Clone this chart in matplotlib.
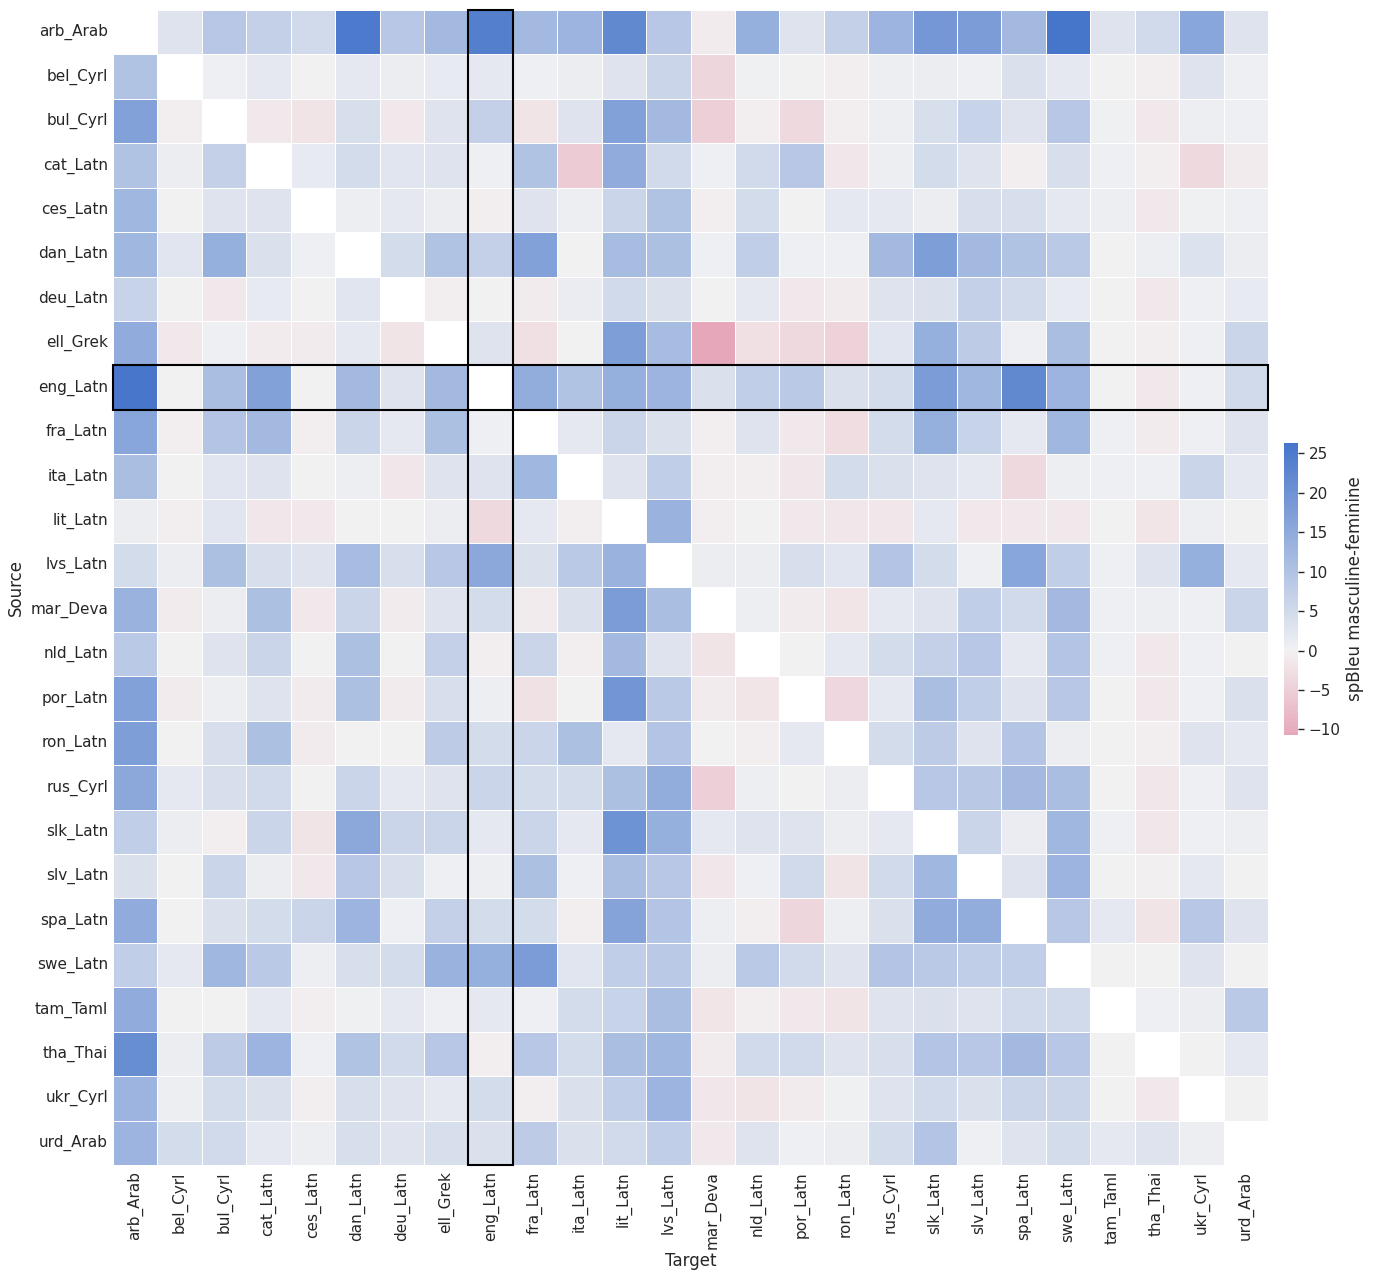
import numpy as np
import matplotlib
matplotlib.use("Agg")
import matplotlib.pyplot as plt
import seaborn as sns
from matplotlib.patches import Rectangle

langs = ["arb_Arab", "bel_Cyrl", "bul_Cyrl", "cat_Latn", "ces_Latn", "dan_Latn",
         "deu_Latn", "ell_Grek", "eng_Latn", "fra_Latn", "ita_Latn", "lit_Latn",
         "lvs_Latn", "mar_Deva", "nld_Latn", "por_Latn", "ron_Latn", "rus_Cyrl",
         "slk_Latn", "slv_Latn", "spa_Latn", "swe_Latn", "tam_Taml", "tha_Thai",
         "ukr_Cyrl", "urd_Arab"]
N = np.nan
# rows = source, columns = target (spBleu masculine - feminine)
values = [
    [N, 3, 9, 7, 5, 25, 9, 12, 24, 12, 13, 22, 9, -1, 14, 3, 7, 13, 19, 18, 12, 26.3, 3, 5, 16, 3],
    [10, N, 0.5, 2, 0, 2, 1, 1.5, 2, 0.5, 1, 3, 6, -4, 0.3, 0, -0.7, 0.7, 1, 0.5, 3.5, 2, 0, -0.7, 3, 0.5],
    [17, -0.7, N, -1.2, -2, 4, -1.2, 3, 7, -2, 3, 17, 12, -5, -0.7, -3.5, -0.7, 0.7, 4, 6.5, 3, 9, 0.3, -1.3, 0.7, 0.5],
    [10, 1, 7, N, 1.5, 4.5, 2.5, 3, 0.5, 10, -5.5, 15, 5, 0.5, 5, 9, -1.5, 0.7, 4.5, 3, -0.7, 4, 0.5, -0.7, -3.5, -1],
    [12.5, 0, 3, 3, N, 0.7, 2, 1, -0.7, 3, 0.7, 6, 10, -0.7, 4.5, 0, 2, 2, 1, 4, 4, 2, 0.7, -1.3, 0.3, 0.5],
    [12.5, 2.5, 14, 3.5, 0.5, N, 4.5, 10, 7, 17, 0, 11.5, 10.5, 0.5, 7.5, 0.5, 0.5, 12, 17.5, 12, 10, 8.5, 0, 0.7, 3.3, 1],
    [6.5, 0, -1.2, 1.5, 0, 2.5, N, -0.7, 0, -0.8, 1.2, 5, 3.5, 0, 2, -1.2, -1, 3, 3.5, 7, 5, 1.5, 0, -1.2, 0.5, 1.5],
    [15, -1.2, 0.5, -0.8, -0.8, 2, -2, N, 3, -2.5, 0, 17.5, 11.5, -10.7, -2.5, -3.5, -4.5, 2.5, 14, 8, 0.5, 11, 0, -0.7, 0.5, 6],
    [26, 0, 11, 17, 0, 12, 3, 12, N, 14.5, 10, 14, 13, 3.5, 7.5, 8.5, 3.5, 4.5, 18, 12.5, 22, 13, 0, -1.3, 0.5, 5],
    [16, -0.7, 9.5, 12, -0.7, 6, 2, 10.5, 0.5, N, 2, 6, 3.5, -0.7, 3, -1.2, -3, 4.5, 14, 6.5, 2, 12.5, 0.5, -0.8, 0.5, 3],
    [11, 0, 2.5, 3, 0, 0.7, -1.5, 3, 3, 12.5, N, 3, 7.5, -0.7, -0.7, -1.5, 4.5, 3.5, 3, 2, -3.5, 0.7, 0.5, 0.5, 6, 2],
    [1, -0.7, 2.5, -1.5, -1.2, 0, 0, 1, -3.5, 2, -0.7, N, 13.5, -0.7, 0, -1.3, -1.5, -1.5, 2, -1.2, -1.2, -1.2, 0, -1.7, 0.7, 0],
    [4.5, 1, 10.5, 4, 3, 11.5, 4, 9, 15.5, 3.5, 8.5, 13.5, N, 1, 1, 4, 2.5, 9.5, 4.5, 0.5, 16, 7.5, 0.5, 3, 14, 2],
    [13.5, -1, 1, 10.5, -1.2, 6, -1, 3, 4.5, -1, 3.5, 18, 11, N, 0.7, -0.8, -1.8, 2, 3, 7.5, 5, 12, 0.5, 0.7, 0.5, 6],
    [8.5, 0, 3, 6, 0, 10.5, 0, 7, -0.7, 6, -0.7, 12, 3, -2, N, 0, 2, 4.5, 7, 9, 2, 9.5, 0.5, -1.2, 0.5, 0],
    [17, -0.8, 0.7, 3, -0.8, 10.5, -0.8, 4, 0.7, -2.3, 0, 19.5, 8.5, -0.8, -1.8, N, -3.7, 2, 11, 7.5, 3, 9, 0, -1.2, 0.5, 3.5],
    [17.5, 0, 4, 10.5, -0.8, 0, 0, 8, 4.5, 6, 10.5, 2, 9.5, 0, -0.7, 2, N, 4.5, 8, 3, 9.5, 1, 0, -0.7, 3, 2],
    [15.5, 2, 4, 5, 0, 6, 2, 3, 6, 4.5, 4.5, 10.5, 14.5, -5, 0.7, 0, 1, N, 9, 8.8, 12, 11, 0, -1.5, 0.5, 3],
    [7.5, 1, -0.7, 6, -2, 15.5, 6, 6, 2, 6, 2, 20, 14, 2, 3, 3, 1, 2, N, 6, 1.2, 12.5, 0.5, -1.5, 0.5, 0.7],
    [3.5, 0, 6.2, 1, -1.2, 9, 4, 0.5, 0.7, 10.5, 0.5, 11, 9, -1.5, 0.5, 5, -2, 5, 12.5, N, 3, 13, 0, -0.3, 2, 0],
    [15, 0, 3.5, 4.5, 6, 13, 0.5, 7, 4.5, 4.5, -0.7, 16.5, 9.5, 0.7, -0.7, -4, 0.7, 3.5, 15, 14.5, N, 9, 2, -2, 9, 3],
    [7.5, 2, 12.5, 8.5, 0.7, 4, 4.5, 13.5, 14, 18, 2.5, 7.5, 8.5, 1, 8.5, 5, 3, 9.5, 8.5, 7.5, 7.5, N, 0, 0, 3, 0],
    [15, 0, 0, 2, -0.7, 0.3, 2, 0.5, 2, 0.5, 4.5, 6.5, 11, -1.8, -0.7, -1.2, -2, 3, 3.5, 3, 5, 5, N, 0.5, 1, 8.5],
    [21, 1, 8, 13, 0.5, 10, 5, 9, -0.7, 9, 4.5, 11, 12.5, -0.8, 5, 5, 3, 4, 9.5, 9, 12, 9, 0, N, 0, 2],
    [13, 0.7, 4.5, 3.5, -0.7, 4, 3, 2, 4.5, -0.7, 3.5, 7.5, 13, -1.5, -2, -0.8, 0.3, 3, 5, 3.5, 6, 6.2, 0, -1.2, N, 0],
    [13, 4.5, 5, 2, 0.7, 4, 3, 4, 3.5, 8, 3.5, 5, 7.5, -1.2, 3, 0.5, 1, 4.5, 9.5, 0.5, 3, 4.5, 2, 3, 0.7, N],
]
highlight = "eng_Latn"

sns.set_theme(style="white")
plt.rcParams["font.family"] = ["DejaVu Sans"]

W, H = 1374, 1278
fig = plt.figure(figsize=(W / 100, H / 100), dpi=100)
ax = fig.add_axes([113 / W, 113 / H, 1155 / W, 1155 / H])
cax = fig.add_axes([1284 / W, (H - 735) / H, 14 / W, 292 / H])

data = np.array(values, dtype=float)
cmap = sns.diverging_palette(0, 255, as_cmap=True)
sns.heatmap(data, ax=ax, cbar_ax=cax, cmap=cmap, center=0, linewidths=0.5,
            linecolor="white", xticklabels=langs, yticklabels=langs,
            cbar_kws={"label": "spBleu masculine-feminine"})

k = langs.index(highlight)
n = len(langs)
ax.add_patch(Rectangle((k, 0), 1, n, fill=False, edgecolor="black", lw=1.5, clip_on=False, zorder=5))
ax.add_patch(Rectangle((0, k), n, 1, fill=False, edgecolor="black", lw=1.5, clip_on=False, zorder=5))

ax.tick_params(axis="x", labelrotation=90, labelsize=11, length=0, pad=4.5)
ax.tick_params(axis="y", labelrotation=0, labelsize=11, length=0, pad=3.5)
ax.set_xlabel("Target", fontsize=12, labelpad=2)
ax.set_ylabel("Source", fontsize=12, labelpad=4)
cax.tick_params(labelsize=11, length=4, width=1, right=True)
cax.yaxis.label.set_size(12)

fig.savefig("out.png", dpi=100)
